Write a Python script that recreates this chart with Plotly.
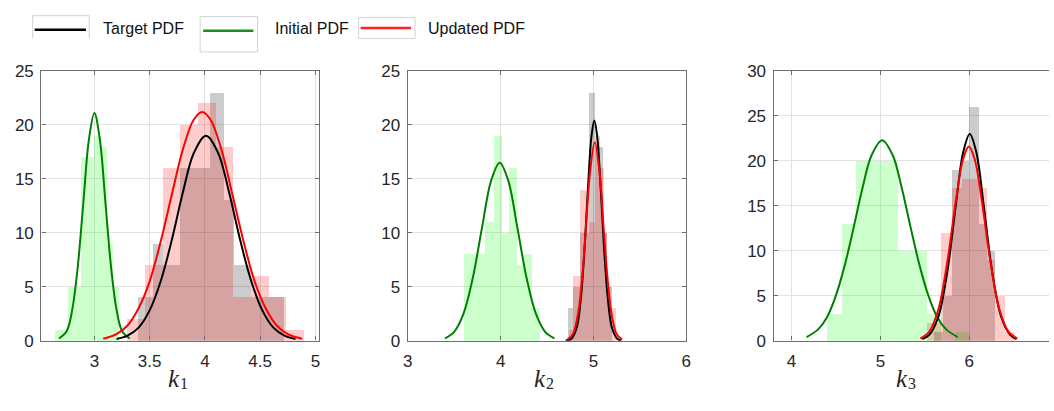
import plotly.graph_objects as go

# ---------------- data ----------------
# Histograms: bin edges and counts
k1_initial_edges = [2.65, 2.76, 2.88, 3.00, 3.06, 3.12, 3.17, 3.23]
k1_initial_counts = [1, 5, 17, 19, 18, 9, 5]
k1_target_edges = [3.40, 3.53, 3.62, 3.78, 3.92, 4.05, 4.18, 4.27, 4.42, 4.57, 4.72]
k1_target_counts = [4, 9, 7, 16, 16, 23, 13, 7, 4, 4]
k1_updated_edges = [3.30, 3.46, 3.62, 3.78, 3.94, 4.10, 4.26, 4.42, 4.58, 4.74, 4.90]
k1_updated_counts = [2, 7, 16, 20, 22, 18, 4, 6, 4, 1]

k2_initial_edges = [3.60, 3.83, 3.93, 4.01, 4.09, 4.18, 4.23, 4.34, 4.42]
k2_initial_counts = [8, 11, 19, 10, 16, 7, 8, 3]
k2_target_edges = [4.72, 4.78, 4.85, 4.95, 5.02, 5.10, 5.15, 5.20]
k2_target_counts = [3, 5, 10, 23, 18, 10, 5]
k2_updated_edges = [4.74, 4.78, 4.85, 4.95, 5.02, 5.07, 5.11, 5.15, 5.19, 5.24]
k2_updated_counts = [1, 6, 14, 11, 19, 16, 10, 5, 3]

k3_initial_edges = [4.40, 4.56, 4.72, 4.87, 5.03, 5.19, 5.36, 5.52, 5.68, 5.84, 6.00]
k3_initial_counts = [3, 13, 20, 20, 20, 10, 10, 3, 0, 1]
k3_target_edges = [5.60, 5.70, 5.80, 5.91, 5.99, 6.10, 6.19, 6.29]
k3_target_counts = [1, 5, 19, 20, 26, 13, 10]
k3_updated_edges = [5.52, 5.68, 5.80, 5.91, 6.02, 6.10, 6.19, 6.29, 6.40, 6.51]
k3_updated_counts = [2, 12, 17, 18, 18, 17, 9, 5, 1]

# PDF curves: points
k1_initial_pdf_x = [2.68, 2.75, 2.80, 2.85, 2.90, 2.95, 3.00, 3.05, 3.10, 3.15, 3.20, 3.25, 3.32]
k1_initial_pdf_y = [0.2, 0.9, 2.9, 6.9, 12.8, 18.6, 21.1, 18.6, 12.8, 6.9, 2.9, 0.9, 0.2]
k1_target_pdf_x = [3.20, 3.30, 3.40, 3.50, 3.60, 3.70, 3.80, 3.90, 4.01, 4.12, 4.22, 4.32, 4.42, 4.52, 4.62, 4.72, 4.82]
k1_target_pdf_y = [0.15, 0.46, 1.2, 2.8, 5.5, 9.3, 13.7, 17.4, 19.0, 17.4, 13.7, 9.3, 5.5, 2.8, 1.2, 0.46, 0.15]
k1_updated_pdf_x = [3.08, 3.20, 3.30, 3.40, 3.50, 3.60, 3.70, 3.80, 3.90, 3.975, 4.05, 4.15, 4.25, 4.35, 4.45, 4.55, 4.65, 4.75, 4.88]
k1_updated_pdf_y = [0.18, 0.6, 1.4, 3.0, 5.5, 9.2, 13.5, 17.7, 20.5, 21.2, 20.5, 17.7, 13.5, 9.2, 5.5, 3.0, 1.4, 0.6, 0.18]

k2_initial_pdf_x = [3.40, 3.50, 3.60, 3.70, 3.80, 3.90, 3.99, 4.08, 4.18, 4.28, 4.38, 4.48, 4.58]
k2_initial_pdf_y = [0.21, 0.82, 2.5, 5.8, 10.5, 14.9, 16.5, 14.9, 10.5, 5.8, 2.5, 0.82, 0.21]
k2_target_pdf_x = [4.70, 4.76, 4.82, 4.86, 4.90, 4.94, 4.98, 5.01, 5.04, 5.08, 5.12, 5.16, 5.20, 5.26, 5.30]
k2_target_pdf_y = [0.02, 0.15, 1.2, 3.5, 7.9, 13.9, 19.0, 20.4, 19.0, 13.9, 7.9, 3.5, 1.2, 0.15, 0.02]
k2_updated_pdf_x = [4.72, 4.78, 4.84, 4.88, 4.92, 4.96, 5.015, 5.07, 5.11, 5.15, 5.19, 5.25, 5.31]
k2_updated_pdf_y = [0.09, 0.61, 2.8, 6.0, 10.5, 15.3, 18.4, 15.3, 10.5, 6.0, 2.8, 0.61, 0.09]

k3_initial_pdf_x = [4.17, 4.30, 4.40, 4.50, 4.60, 4.70, 4.80, 4.90, 5.02, 5.14, 5.24, 5.34, 5.44, 5.54, 5.64, 5.74, 5.87]
k3_initial_pdf_y = [0.4, 1.25, 2.6, 5.0, 8.4, 12.6, 17.0, 20.6, 22.3, 20.6, 17.0, 12.6, 8.4, 5.0, 2.6, 1.25, 0.4]
k3_target_pdf_x = [5.47, 5.55, 5.65, 5.75, 5.85, 5.93, 6.005, 6.08, 6.16, 6.26, 6.36, 6.46, 6.53]
k3_target_pdf_y = [0.17, 0.64, 2.6, 7.5, 15.2, 20.9, 23.0, 20.9, 15.2, 7.5, 2.6, 0.64, 0.17]
k3_updated_pdf_x = [5.45, 5.55, 5.65, 5.75, 5.85, 5.93, 5.995, 6.06, 6.14, 6.24, 6.34, 6.44, 6.54]
k3_updated_pdf_y = [0.22, 1.0, 3.4, 8.6, 15.6, 20.2, 21.6, 20.2, 15.6, 8.6, 3.4, 1.0, 0.22]

x_tick_vals = [[3, 3.5, 4, 4.5, 5], [3, 4, 5, 6], [4, 5, 6]]
x_tick_text = [["3", "3.5", "4", "4.5", "5"], ["3", "4", "5", "6"], ["4", "5", "6"]]
y_tick_vals = [[0, 5, 10, 15, 20, 25], [0, 5, 10, 15, 20, 25], [0, 5, 10, 15, 20, 25, 30]]
x_label_symbol = "k"
x_label_index = ["1", "2", "3"]
legend_names = ["Target PDF", "Initial PDF", "Updated PDF"]

# ---------------- figure ----------------
W, H = 1054, 411


def px(x):
    return x / W


def py(y):
    return 1 - y / H


GREEN_FILL = "rgba(0,255,0,0.2)"
GRAY_FILL = "rgba(0,0,0,0.2)"
RED_FILL = "rgba(255,0,0,0.2)"
GREEN = "#008000"
BLACK = "#000000"
RED = "#ff0000"

fig = go.Figure()


def add_hist(edges, counts, color, xa, ya):
    centers = [(a + b) / 2 for a, b in zip(edges[:-1], edges[1:])]
    widths = [b - a for a, b in zip(edges[:-1], edges[1:])]
    fig.add_trace(go.Bar(x=centers, y=counts, width=widths, marker_color=color,
                         marker_line_width=0, xaxis=xa, yaxis=ya,
                         showlegend=False, hoverinfo="skip"))


def add_curve(xs, ys, color, xa, ya):
    fig.add_trace(go.Scatter(x=xs, y=ys, mode="lines",
                             line=dict(color=color, width=2, shape="spline", smoothing=1.0),
                             xaxis=xa, yaxis=ya, showlegend=False, hoverinfo="skip"))


panels = [
    (k1_initial_edges, k1_initial_counts, k1_target_edges, k1_target_counts,
     k1_updated_edges, k1_updated_counts,
     (k1_initial_pdf_x, k1_initial_pdf_y), (k1_target_pdf_x, k1_target_pdf_y),
     (k1_updated_pdf_x, k1_updated_pdf_y), "x", "y"),
    (k2_initial_edges, k2_initial_counts, k2_target_edges, k2_target_counts,
     k2_updated_edges, k2_updated_counts,
     (k2_initial_pdf_x, k2_initial_pdf_y), (k2_target_pdf_x, k2_target_pdf_y),
     (k2_updated_pdf_x, k2_updated_pdf_y), "x2", "y2"),
    (k3_initial_edges, k3_initial_counts, k3_target_edges, k3_target_counts,
     k3_updated_edges, k3_updated_counts,
     (k3_initial_pdf_x, k3_initial_pdf_y), (k3_target_pdf_x, k3_target_pdf_y),
     (k3_updated_pdf_x, k3_updated_pdf_y), "x3", "y3"),
]

for (ie, ic, te, tc, ue, uc, ipdf, tpdf, updf, xa, ya) in panels:
    add_hist(ie, ic, GREEN_FILL, xa, ya)
    add_hist(te, tc, GRAY_FILL, xa, ya)
    add_hist(ue, uc, RED_FILL, xa, ya)
    add_curve(ipdf[0], ipdf[1], GREEN, xa, ya)
    add_curve(tpdf[0], tpdf[1], BLACK, xa, ya)
    add_curve(updf[0], updf[1], RED, xa, ya)

AX_COLOR = "#6e6e6e"
GRID_COLOR = "#e2e2e2"
TICK_FONT = dict(family="Arial, Liberation Sans, sans-serif", size=17, color="#262626")

x_domains = [[px(36.7), px(316.7)], [px(406.7), px(687.7)], [px(776), 1.0]]
x_ranges = [[2.52, 5.03], [3.0, 6.0], [3.8, 6.896]]
y_ranges = [[0, 25], [0, 25], [0, 30]]
y_domain = [py(347.7), py(65)]

layout_axes = {}
for i in range(3):
    sx = "" if i == 0 else str(i + 1)
    layout_axes["xaxis" + sx] = dict(
        domain=x_domains[i], range=x_ranges[i], anchor="y" + sx,
        tickvals=x_tick_vals[i], ticktext=x_tick_text[i],
        showline=True, linecolor=AX_COLOR, linewidth=1.3, mirror="ticks",
        ticks="inside", ticklen=4, tickcolor=AX_COLOR,
        showgrid=True, gridcolor=GRID_COLOR, gridwidth=1, zeroline=False,
        tickfont=TICK_FONT, fixedrange=True, ticklabelstandoff=5,
    )
    layout_axes["yaxis" + sx] = dict(
        domain=y_domain, range=y_ranges[i], anchor="x" + sx,
        tickvals=y_tick_vals[i],
        showline=True, linecolor=AX_COLOR, linewidth=1.3,
        mirror=("ticks" if i < 2 else False),
        ticks="inside", ticklen=4, tickcolor=AX_COLOR,
        showgrid=True, gridcolor=GRID_COLOR, gridwidth=1, zeroline=False,
        tickfont=TICK_FONT, fixedrange=True, ticklabelstandoff=3,
    )

annotations = []
label_x = [178, 547.2, 913]
SERIF = "Times New Roman, Liberation Serif, serif"
for i in range(3):
    annotations.append(dict(
        x=px(label_x[i] + 1), y=py(387), xref="paper", yref="paper",
        text=x_label_symbol, showarrow=False, xanchor="right", yanchor="middle",
        font=dict(family=SERIF, size=25, color="#262626", style="italic"),
    ))
    annotations.append(dict(
        x=px(label_x[i] - 3), y=py(393), xref="paper", yref="paper",
        text=x_label_index[i], showarrow=False, xanchor="left", yanchor="middle",
        font=dict(family=SERIF, size=16, color="#262626"),
    ))

# legend (drawn as boxes, line samples and texts)
legend_colors = [BLACK, "#1a8f1a", "#ff2020"]
legend_boxes = [(28, 7, 85, 31), (197, 8, 255, 45), (357, 9, 414, 31)]
legend_line = [(30, 81.7, 21.7), (200, 250.7, 22.7), (359, 410, 20)]
legend_text_x = [96.7, 270.7, 425]
shapes = []
for i in range(3):
    x0, y0, x1, y1 = legend_boxes[i]
    if i == 0:
        path = f"M{px(x0)},{py(y1)} L{px(x0)},{py(y0)} L{px(x1)},{py(y0)} L{px(x1)},{py(y1)}"
        shapes.append(dict(type="path", path=path, xref="paper", yref="paper",
                           line=dict(color="#d2d2d2", width=1)))
    else:
        shapes.append(dict(type="rect", x0=px(x0), x1=px(x1), y0=py(y1), y1=py(y0),
                           xref="paper", yref="paper", line=dict(color="#d2d2d2", width=1)))
    lx0, lx1, ly = legend_line[i]
    shapes.append(dict(type="line", x0=px(lx0), x1=px(lx1), y0=py(ly), y1=py(ly),
                       xref="paper", yref="paper",
                       line=dict(color=legend_colors[i], width=2.5)))
    annotations.append(dict(
        x=px(legend_text_x[i]), y=py(20), xref="paper", yref="paper",
        text=legend_names[i], showarrow=False, xanchor="left", yanchor="middle",
        font=dict(family="Arial, Liberation Sans, sans-serif", size=16, color="#111111"),
    ))

fig.update_layout(
    width=W, height=H, autosize=False,
    margin=dict(l=0, r=0, t=0, b=0),
    paper_bgcolor="white", plot_bgcolor="white",
    barmode="overlay", bargap=0,
    showlegend=False,
    annotations=annotations, shapes=shapes,
    **layout_axes,
)

fig.write_html("out.html")
